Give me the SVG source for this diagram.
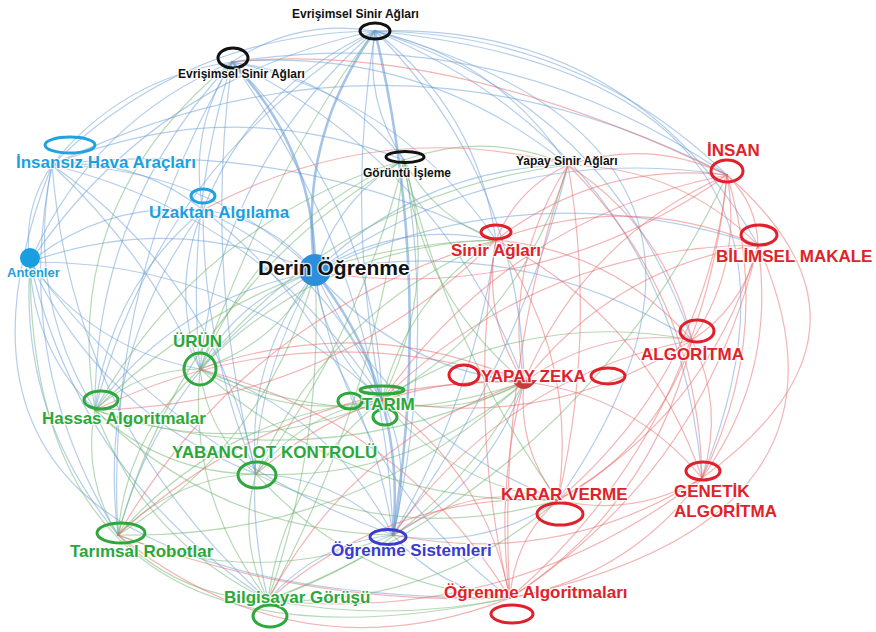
<svg xmlns="http://www.w3.org/2000/svg" width="876" height="632" viewBox="0 0 876 632">
<style>
.e path{fill:none;stroke-width:1.2;stroke-linecap:round}
.b{stroke:#6a9ed6;stroke-opacity:.5}
.g{stroke:#6fb46f;stroke-opacity:.5}
.r{stroke:#e86a6a;stroke-opacity:.5}
.t{stroke-width:2.6 !important;stroke-opacity:.6}
.o{fill:none;stroke-width:3}
.k{stroke:#111}
.bl{stroke:#1fa2e0}
.gr{stroke:#2ea83c}
.rd{stroke:#e0202a}
.pu{stroke:#3b3bd0}
text{font-family:"Liberation Sans",Arial,sans-serif;font-weight:bold;paint-order:stroke;stroke:#fff;stroke-width:2.5;stroke-opacity:.8}
.lk{fill:#111;font-size:12px}
.lb{fill:#1c9fdf;font-size:17px}
.lg{fill:#2aa83a;font-size:17px}
.lr{fill:#e0222a;font-size:17px}
.lp{fill:#3a3acc;font-size:17px}
</style>
<rect width="876" height="632" fill="#fff"/>
<g id="connectors" class="e">
<path class="b" d="M375 31 Q297 18 232 62"/>
<path class="b" d="M375 31 Q187 33 52 165"/>
<path class="b" d="M375 31 Q253 86 203 210"/>
<path class="b" d="M375 31 Q156 77 30 262"/>
<path class="b t" d="M375 31 Q297 139 315 272"/>
<path class="b" d="M375 31 Q364 101 404 160"/>
<path class="b" d="M375 31 Q498 59 568 165"/>
<path class="b" d="M375 31 Q580 33 727 175"/>
<path class="b" d="M375 31 Q631 23 758 245"/>
<path class="b" d="M375 31 Q477 111 496 240"/>
<path class="b" d="M375 31 Q345 216 382 400"/>
<path class="b t" d="M375 31 Q434 281 393 535"/>
<path class="b" d="M375 31 Q220 165 200 369"/>
<path class="b" d="M375 31 Q159 164 95 410"/>
<path class="b" d="M375 31 Q520 177 524 382"/>
<path class="b" d="M375 31 Q611 106 692 340"/>
<path class="b" d="M375 31 Q673 156 702 478"/>
<path class="b" d="M375 31 Q800 150 558 500"/>
<path class="b" d="M375 31 Q860 80 702 478"/>
<path class="b" d="M232 62 Q121 78 52 165"/>
<path class="b" d="M232 62 Q188 130 203 210"/>
<path class="b" d="M232 62 Q91 122 30 262"/>
<path class="b t" d="M232 62 Q316 150 315 272"/>
<path class="b" d="M232 62 Q338 77 404 160"/>
<path class="b" d="M232 62 Q375 201 382 400"/>
<path class="b" d="M232 62 Q384 274 393 535"/>
<path class="b" d="M232 62 Q185 212 200 369"/>
<path class="b" d="M232 62 Q94 209 95 410"/>
<path class="b" d="M232 62 Q203 270 256 474"/>
<path class="b" d="M232 62 Q104 281 118 535"/>
<path class="b" d="M232 62 Q400 98 496 240"/>
<path class="b" d="M232 62 Q442 164 524 382"/>
<path class="b" d="M232 62 Q421 46 568 165"/>
<path class="b" d="M232 62 Q502 20 727 175"/>
<path class="b" d="M52 165 Q22 209 30 262"/>
<path class="b" d="M52 165 Q137 157 203 210"/>
<path class="b" d="M52 165 Q205 166 315 272"/>
<path class="b" d="M52 165 Q25 296 95 410"/>
<path class="b" d="M52 165 Q11 363 118 535"/>
<path class="b" d="M52 165 Q146 252 200 369"/>
<path class="b" d="M52 165 Q216 279 256 474"/>
<path class="b" d="M52 165 Q264 217 382 400"/>
<path class="b" d="M52 165 Q227 92 404 160"/>
<path class="b" d="M52 165 Q285 136 496 240"/>
<path class="b" d="M52 165 Q73 426 268 600"/>
<path class="b" d="M52 165 Q392 1 727 175"/>
<path class="b" d="M52 165 Q-120 600 510 598"/>
<path class="b" d="M203 210 Q106 201 30 262"/>
<path class="b" d="M203 210 Q271 219 315 272"/>
<path class="b" d="M203 210 Q109 288 95 410"/>
<path class="b" d="M203 210 Q170 289 200 369"/>
<path class="b" d="M203 210 Q331 269 382 400"/>
<path class="b" d="M203 210 Q203 347 256 474"/>
<path class="b" d="M203 210 Q363 334 393 535"/>
<path class="b" d="M203 210 Q96 356 118 535"/>
<path class="b" d="M30 262 Q175 210 315 272"/>
<path class="b" d="M30 262 Q33 349 95 410"/>
<path class="b" d="M30 262 Q19 416 118 535"/>
<path class="b" d="M30 262 Q94 350 200 369"/>
<path class="b" d="M30 262 Q101 413 256 474"/>
<path class="b" d="M30 262 Q234 261 382 400"/>
<path class="b" d="M30 262 Q81 479 268 600"/>
<path class="b" d="M30 262 Q171 453 393 535"/>
<path class="b" d="M315 272 Q337 198 404 160"/>
<path class="b" d="M315 272 Q399 220 496 240"/>
<path class="b" d="M315 272 Q398 369 524 382"/>
<path class="b" d="M315 272 Q323 349 382 400"/>
<path class="b t" d="M315 272 Q407 388 393 535"/>
<path class="b" d="M315 272 Q238 298 200 369"/>
<path class="b" d="M315 272 Q245 361 256 474"/>
<path class="b" d="M315 272 Q177 297 95 410"/>
<path class="b" d="M315 272 Q164 364 118 535"/>
<path class="b" d="M315 272 Q226 427 268 600"/>
<path class="b" d="M315 272 Q391 435 558 500"/>
<path class="b" d="M315 272 Q348 474 510 598"/>
<path class="b" d="M315 272 Q517 231 692 340"/>
<path class="b" d="M315 272 Q502 141 727 175"/>
<path class="b" d="M315 272 Q531 170 758 245"/>
<path class="b" d="M315 272 Q420 168 568 165"/>
<path class="b" d="M393 535 Q414 465 382 400"/>
<path class="b" d="M393 535 Q489 485 524 382"/>
<path class="b" d="M393 535 Q436 348 404 160"/>
<path class="b" d="M393 535 Q318 543 268 600"/>
<path class="b" d="M393 535 Q439 590 510 598"/>
<path class="b" d="M393 535 Q483 551 558 500"/>
<path class="b" d="M393 535 Q474 398 496 240"/>
<path class="b" d="M393 535 Q337 477 256 474"/>
<path class="b" d="M393 535 Q330 413 200 369"/>
<path class="b" d="M393 535 Q518 368 568 165"/>
<path class="g" d="M200 369 Q139 369 95 410"/>
<path class="g" d="M200 369 Q285 421 382 400"/>
<path class="g" d="M200 369 Q207 433 256 474"/>
<path class="g" d="M200 369 Q126 436 118 535"/>
<path class="g" d="M200 369 Q188 498 268 600"/>
<path class="g" d="M200 369 Q260 224 404 160"/>
<path class="g" d="M200 369 Q322 245 496 240"/>
<path class="g" d="M200 369 Q359 440 524 382"/>
<path class="g" d="M200 369 Q353 506 558 500"/>
<path class="g" d="M200 369 Q343 193 568 165"/>
<path class="g" d="M200 369 Q277 344 315 272"/>
<path class="g" d="M200 369 Q280 150 375 31"/>
<path class="g" d="M95 410 Q82 477 118 535"/>
<path class="g" d="M95 410 Q163 474 256 474"/>
<path class="g" d="M95 410 Q144 540 268 600"/>
<path class="g" d="M95 410 Q241 462 382 400"/>
<path class="g" d="M95 410 Q200 223 404 160"/>
<path class="g" d="M95 410 Q315 482 524 382"/>
<path class="g" d="M95 410 Q219 532 393 535"/>
<path class="g" d="M95 410 Q262 245 496 240"/>
<path class="g" d="M95 410 Q60 200 232 62"/>
<path class="g" d="M382 400 Q304 412 256 474"/>
<path class="g" d="M382 400 Q223 415 118 535"/>
<path class="g" d="M382 400 Q285 477 268 600"/>
<path class="g" d="M382 400 Q441 284 404 160"/>
<path class="g" d="M382 400 Q522 320 568 165"/>
<path class="g" d="M382 400 Q407 297 496 240"/>
<path class="g" d="M382 400 Q457 419 524 382"/>
<path class="g" d="M382 400 Q450 485 558 500"/>
<path class="g" d="M382 400 Q525 308 692 340"/>
<path class="g" d="M256 474 Q175 477 118 535"/>
<path class="g" d="M256 474 Q237 539 268 600"/>
<path class="g" d="M256 474 Q361 332 404 160"/>
<path class="g" d="M256 474 Q408 482 524 382"/>
<path class="g" d="M256 474 Q402 547 558 500"/>
<path class="g" d="M256 474 Q358 587 510 598"/>
<path class="g" d="M256 474 Q329 309 496 240"/>
<path class="g" d="M118 535 Q180 598 268 600"/>
<path class="g" d="M118 535 Q256 590 393 535"/>
<path class="g" d="M118 535 Q186 290 404 160"/>
<path class="g" d="M118 535 Q352 540 524 382"/>
<path class="g" d="M118 535 Q269 443 315 272"/>
<path class="g" d="M268 600 Q389 623 510 598"/>
<path class="g" d="M268 600 Q440 542 524 382"/>
<path class="g" d="M268 600 Q433 608 558 500"/>
<path class="g" d="M268 600 Q380 394 404 160"/>
<path class="g" d="M268 600 Q324 441 315 272"/>
<path class="g" d="M268 600 Q583 479 727 175"/>
<path class="g" d="M404 160 Q487 130 568 165"/>
<path class="g" d="M404 160 Q434 218 496 240"/>
<path class="g" d="M404 160 Q420 295 524 382"/>
<path class="g" d="M404 160 Q447 345 558 500"/>
<path class="g" d="M30 262 Q30 700 510 598"/>
<path class="r" d="M568 165 Q517 188 496 240"/>
<path class="r" d="M568 165 Q650 138 727 175"/>
<path class="r" d="M568 165 Q679 167 758 245"/>
<path class="r" d="M568 165 Q665 228 692 340"/>
<path class="r" d="M568 165 Q503 265 524 382"/>
<path class="r" d="M568 165 Q597 334 558 500"/>
<path class="r" d="M568 165 Q698 295 702 478"/>
<path class="r" d="M568 165 Q496 376 510 598"/>
<path class="r" d="M568 165 Q377 115 203 210"/>
<path class="r" d="M727 175 Q757 204 758 245"/>
<path class="r" d="M727 175 Q743 265 692 340"/>
<path class="r" d="M727 175 Q599 161 496 240"/>
<path class="r" d="M727 175 Q584 238 524 382"/>
<path class="r" d="M727 175 Q708 371 558 500"/>
<path class="r" d="M727 175 Q775 332 702 478"/>
<path class="r" d="M727 175 Q703 430 510 598"/>
<path class="r" d="M727 175 Q541 306 315 272"/>
<path class="r" d="M727 175 Q510 218 382 400"/>
<path class="r" d="M727 175 Q905 330 702 478"/>
<path class="r" d="M727 175 Q450 40 232 62"/>
<path class="r" d="M758 245 Q628 190 496 240"/>
<path class="r" d="M758 245 Q744 306 692 340"/>
<path class="r" d="M758 245 Q614 267 524 382"/>
<path class="r" d="M758 245 Q709 413 558 500"/>
<path class="r" d="M758 245 Q777 373 702 478"/>
<path class="r" d="M758 245 Q705 471 510 598"/>
<path class="r" d="M758 245 Q539 247 382 400"/>
<path class="r" d="M758 245 Q880 520 510 598"/>
<path class="r" d="M496 240 Q482 317 524 382"/>
<path class="r" d="M496 240 Q614 251 692 340"/>
<path class="r" d="M496 240 Q579 358 558 500"/>
<path class="r" d="M496 240 Q647 318 702 478"/>
<path class="r" d="M496 240 Q467 420 510 598"/>
<path class="r" d="M496 240 Q329 405 95 410"/>
<path class="r" d="M496 240 Q248 312 118 535"/>
<path class="r" d="M692 340 Q600 327 524 382"/>
<path class="r" d="M692 340 Q657 447 558 500"/>
<path class="r" d="M692 340 Q725 407 702 478"/>
<path class="r" d="M692 340 Q653 505 510 598"/>
<path class="r" d="M692 340 Q549 432 382 400"/>
<path class="r" d="M692 340 Q503 378 393 535"/>
<path class="r" d="M524 382 Q517 448 558 500"/>
<path class="r" d="M524 382 Q632 394 702 478"/>
<path class="r" d="M524 382 Q495 489 510 598"/>
<path class="r" d="M524 382 Q352 440 268 600"/>
<path class="r" d="M524 382 Q290 377 118 535"/>
<path class="r" d="M524 382 Q372 374 256 474"/>
<path class="r" d="M524 382 Q365 311 200 369"/>
<path class="r" d="M524 382 Q304 310 95 410"/>
<path class="r" d="M558 500 Q634 518 702 478"/>
<path class="r" d="M558 500 Q514 539 510 598"/>
<path class="r" d="M558 500 Q393 492 268 600"/>
<path class="r" d="M558 500 Q468 484 393 535"/>
<path class="r" d="M702 478 Q630 576 510 598"/>
<path class="r" d="M702 478 Q559 568 393 535"/>
<path class="r" d="M702 478 Q509 626 268 600"/>
<path class="r" d="M510 598 Q486 473 382 400"/>
<path class="r" d="M510 598 Q401 421 200 369"/>
<path class="r" d="M510 598 Q308 606 118 535"/>
<path class="r" d="M118 535 Q300 680 510 598"/>
</g>
<g id="n-evrisimsel-1"><ellipse class="o k" cx="375" cy="31" rx="15" ry="8"/><text class="lk" x="292" y="18">Evrişimsel Sinir Ağları</text></g>
<g id="n-evrisimsel-2"><ellipse class="o k" cx="233" cy="58" rx="15" ry="10"/><text class="lk" x="178" y="78">Evrişimsel Sinir Ağları</text></g>
<g id="n-goruntu"><ellipse class="o k" cx="405" cy="157" rx="19" ry="5.5"/><text class="lk" x="363" y="177">Görüntü İşleme</text></g>
<g id="n-yapay-sinir"><text class="lk" x="516" y="165">Yapay Sinir Ağları</text></g>
<g id="n-insansiz"><ellipse class="o bl" cx="70" cy="145" rx="25" ry="8"/><text class="lb" x="16" y="168">İnsansız Hava Araçları</text></g>
<g id="n-uzaktan"><ellipse class="o bl" cx="203" cy="196" rx="12" ry="7"/><text class="lb" x="149" y="218">Uzaktan Algılama</text></g>
<g id="n-antenler"><circle cx="30" cy="258" r="10" fill="#1a9ee0"/><text class="lb" style="font-size:13px" x="7" y="277">Antenler</text></g>
<g id="n-derin"><circle cx="315" cy="270" r="16" fill="#2d8fdc"/><text class="lk" style="font-size:21px" x="258" y="275">Derin Öğrenme</text></g>
<g id="n-insan"><ellipse class="o rd" cx="727" cy="171" rx="16" ry="11"/><text class="lr" x="707" y="156">İNSAN</text></g>
<g id="n-bilimsel"><ellipse class="o rd" cx="759" cy="235" rx="18" ry="10"/><text class="lr" x="716" y="262">BİLİMSEL MAKALE</text></g>
<g id="n-sinir"><ellipse class="o rd" cx="496" cy="232" rx="15" ry="7"/><text class="lr" x="451" y="256">Sinir Ağları</text></g>
<g id="n-algoritma"><ellipse class="o rd" cx="697" cy="331" rx="17" ry="11"/><text class="lr" x="641" y="360">ALGORİTMA</text></g>
<g id="n-yapay-zeka"><path d="M511 380 Q524 398 537 380 Z" fill="#c8383c"/><ellipse class="o rd" cx="464" cy="375" rx="15" ry="10"/><ellipse class="o rd" cx="608" cy="376" rx="17" ry="8"/><text class="lr" x="481" y="382">YAPAY ZEKA</text></g>
<g id="n-karar"><ellipse class="o rd" cx="560" cy="514" rx="23" ry="11"/><text class="lr" x="501" y="500">KARAR VERME</text></g>
<g id="n-genetik"><ellipse class="o rd" cx="703" cy="471" rx="17" ry="9"/><text class="lr" x="674" y="497">GENETİK</text><text class="lr" x="674" y="517">ALGORİTMA</text></g>
<g id="n-ogrenme-alg"><ellipse class="o rd" cx="512" cy="614" rx="21" ry="9"/><text class="lr" x="444" y="598">Öğrenme Algoritmaları</text></g>
<g id="n-ogrenme-sis"><ellipse class="o pu" cx="388" cy="537" rx="18" ry="7.5"/><text class="lp" x="331" y="556">Öğrenme Sistemleri</text></g>
<g id="n-urun"><ellipse class="o gr" cx="200" cy="369" rx="16" ry="16"/><text class="lg" x="173" y="347">ÜRÜN</text></g>
<g id="n-hassas"><ellipse class="o gr" cx="101" cy="400" rx="17" ry="9"/><text class="lg" x="42" y="424">Hassas Algoritmalar</text></g>
<g id="n-tarim"><ellipse class="o gr" cx="382" cy="390" rx="22" ry="4"/><ellipse class="o gr" cx="350" cy="401" rx="12" ry="8"/><ellipse class="o gr" cx="385" cy="417" rx="12" ry="8"/><text class="lg" x="362" y="410">TARIM</text></g>
<g id="n-yabanci"><ellipse class="o gr" cx="257" cy="475" rx="19" ry="13"/><text class="lg" x="172" y="458">YABANCI OT KONTROLÜ</text></g>
<g id="n-tarimsal"><ellipse class="o gr" cx="121" cy="533" rx="24" ry="10"/><text class="lg" x="70" y="557">Tarımsal Robotlar</text></g>
<g id="n-bilgisayar"><ellipse class="o gr" cx="270" cy="616" rx="17" ry="11"/><text class="lg" x="224" y="603">Bilgisayar Görüşü</text></g>
</svg>
